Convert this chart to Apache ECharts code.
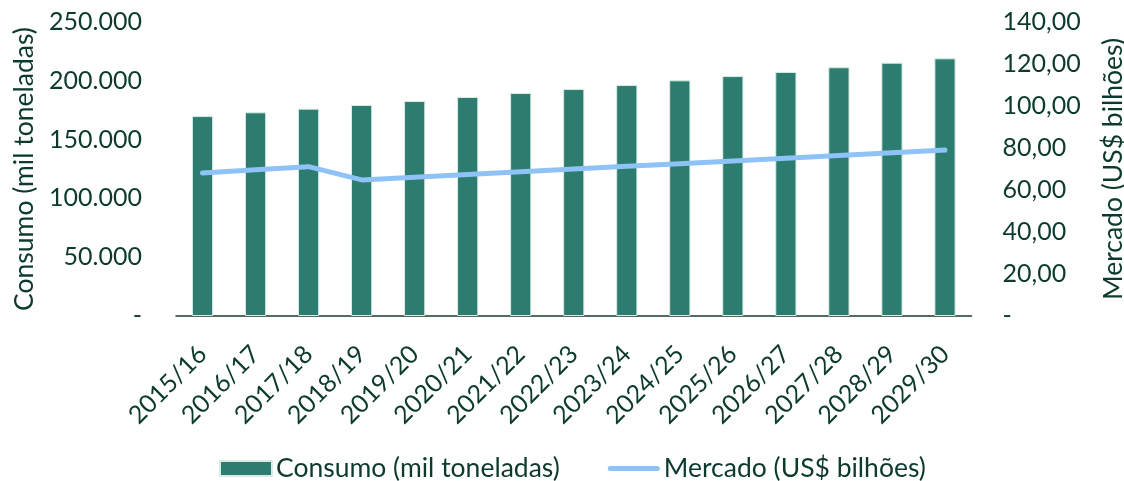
<!DOCTYPE html>
<html>
<head>
<meta charset="utf-8">
<script src="https://cdn.jsdelivr.net/npm/echarts@6/dist/echarts.min.js"></script>
<style>
html,body{margin:0;padding:0;background:#fff;}
#chart{width:1124px;height:481px;}
</style>
</head>
<body>
<div id="chart"></div>
<script>
const categories = ['2015/16','2016/17','2017/18','2018/19','2019/20','2020/21','2021/22','2022/23','2023/24','2024/25','2025/26','2026/27','2027/28','2028/29','2029/30'];
const consumo = [170000, 173200, 176300, 179400, 182800, 186200, 189600, 193000, 196400, 200400, 204000, 207500, 211500, 215400, 219100];
const mercado = [68.1, 69.6, 71.1, 64.8, 66.1, 67.4, 68.7, 70.0, 71.3, 72.5, 73.8, 75.1, 76.4, 77.7, 79.0];
const leftTicks = {min: 0, max: 250000, interval: 50000};
const rightTicks = {min: 0, max: 140, interval: 20};

const FONT = 'Lato';
const TXT = '#0d3a2e';
const chart = echarts.init(document.getElementById('chart'), null, {renderer: 'canvas'});
function fmtLeft(v){ if (v === 0) return '-'; return String(v).replace(/\B(?=(\d{3})+(?!\d))/g, '.'); }
function fmtRight(v){ if (v === 0) return '-'; return v.toFixed(2).replace('.', ','); }
chart.setOption({
  animation: false,
  textStyle: {fontFamily: FONT, color: TXT},
  grid: {left: 176, right: 152.5, top: 22, bottom: 165, containLabel: false, outerBoundsMode: 'none'},
  legend: {
    top: 450, left: 214, itemWidth: 52, itemHeight: 15, itemGap: 48,
    textStyle: {fontFamily: FONT, fontSize: 26.5, color: TXT, padding: [0,0,0,-1]},
    data: [
      {name: 'Consumo (mil toneladas)', icon: 'rect'},
      {name: 'Mercado (US$ bilhões)', icon: 'path://M2.5,0 L49.5,0 A2.5,2.5 0 0 1 49.5,5 L2.5,5 A2.5,2.5 0 0 1 2.5,0 Z', itemStyle: {color: '#8fc3f8'}}
    ]
  },
  xAxis: {
    type: 'category', data: categories,
    axisLine: {lineStyle: {color: '#1d3b33', width: 1.5}},
    axisTick: {show: false},
    axisLabel: {rotate: 45, fontSize: 25, color: TXT, margin: 34, interval: 0, fontFamily: FONT}
  },
  yAxis: [
    {
      type: 'value', min: leftTicks.min, max: leftTicks.max, interval: leftTicks.interval,
      name: 'Consumo (mil toneladas)', nameLocation: 'middle', nameGap: 138,
      nameTextStyle: {fontSize: 26.5, color: TXT, fontFamily: FONT},
      axisLine: {show: false}, axisTick: {show: false}, splitLine: {show: false},
      axisLabel: {fontSize: 25, color: TXT, margin: 34, formatter: fmtLeft, fontFamily: FONT}
    },
    {
      type: 'value', min: rightTicks.min, max: rightTicks.max, interval: rightTicks.interval,
      name: 'Mercado (US$ bilhões)', nameLocation: 'middle', nameGap: 128,
      nameTextStyle: {fontSize: 26.5, color: TXT, fontFamily: FONT},
      axisLine: {show: false}, axisTick: {show: false}, splitLine: {show: false},
      axisLabel: {fontSize: 25, color: TXT, margin: 31, formatter: fmtRight, fontFamily: FONT}
    }
  ],
  series: [
    {
      name: 'Consumo (mil toneladas)', type: 'bar', data: consumo, yAxisIndex: 0,
      barWidth: '40%',
      itemStyle: {color: '#2c7d6f', borderColor: '#d8ebe5', borderWidth: 1}
    },
    {
      name: 'Mercado (US$ bilhões)', type: 'line', data: mercado, yAxisIndex: 1,
      symbol: 'none', lineStyle: {color: '#8fc3f8', width: 5, cap: 'round', join: 'round'},
      itemStyle: {color: '#8fc3f8'}
    }
  ]
});
</script>
</body>
</html>
